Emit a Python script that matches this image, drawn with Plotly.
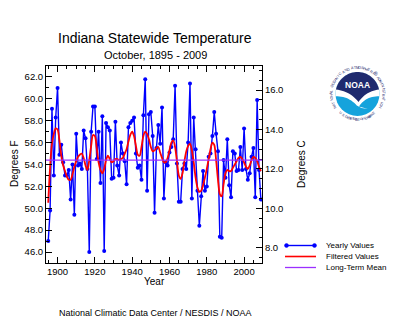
import math
import plotly.graph_objects as go

# ---- data: Indiana statewide mean October temperature (deg F) ----
years = list(range(1895, 2010))
yearly_f = [
    47.0, 49.8, 59.1, 53.0, 58.3, 61.0, 54.9, 55.8, 54.2, 53.0,
    53.0, 53.5, 50.8, 54.0, 49.4, 56.8, 53.9, 54.1, 53.6, 57.1,
    56.4, 53.6, 46.0, 57.0, 59.3, 59.3, 54.5, 57.0, 52.3, 58.4,
    46.1, 57.8, 57.4, 57.1, 52.7, 52.8, 57.9, 53.9, 53.0, 56.0,
    55.0, 54.3, 52.2, 57.4, 57.8, 58.0, 58.3, 55.0, 53.7, 53.9,
    52.6, 58.5, 61.8, 51.6, 58.6, 58.8, 56.6, 49.6, 55.5, 57.6,
    55.9, 59.2, 50.9, 54.2, 53.9, 55.1, 55.6, 56.3, 61.2, 54.1,
    50.6, 50.6, 53.6, 54.1, 53.6, 56.0, 61.4, 50.9, 58.3, 55.4,
    51.6, 48.4, 51.1, 53.4, 51.6, 52.0, 54.7, 55.0, 56.6, 58.8,
    56.8, 55.2, 47.4, 47.3, 54.4, 52.8, 56.3, 52.1, 51.0, 55.2,
    55.0, 53.4, 53.5, 55.6, 53.5, 57.3, 53.6, 52.6, 53.2, 54.7,
    55.5, 51.0, 59.9, 53.5, 50.8,
]
filtered_f = [
    50.5, 53.8, 55.9, 56.8, 57.3, 57.2, 56.2, 54.8, 53.9, 53.4,
    52.9, 52.6, 52.6, 53.1, 53.8, 54.3, 54.7, 54.9, 55.0, 54.6,
    53.9, 53.5, 54.4, 55.7, 56.7, 56.6, 55.5, 54.2, 53.5, 53.2,
    53.6, 54.4, 54.8, 54.5, 54.2, 54.3, 54.5, 54.5, 54.4, 54.5,
    54.6, 55.0, 55.4, 56.1, 56.7, 57.0, 56.6, 55.7, 54.9, 54.8,
    55.6, 56.6, 57.0, 56.8, 56.3, 55.6, 55.2, 55.3, 55.5, 55.6,
    55.1, 54.6, 54.2, 54.2, 54.6, 55.3, 56.0, 56.2, 55.6, 54.3,
    53.0, 52.7, 53.2, 54.3, 55.2, 55.7, 55.9, 55.3, 54.2, 52.8,
    51.9, 51.5, 51.6, 52.1, 52.8, 53.6, 54.5, 55.4, 56.0, 55.8,
    54.4, 52.6, 51.3, 51.1, 52.2, 53.2, 53.5, 53.4, 53.4, 53.7,
    54.0, 54.3, 54.6, 54.7, 54.5, 54.2, 53.8, 53.6, 53.9, 54.4,
    54.7, 54.6, 54.3, 53.8, 53.4,
]
long_term_mean_f = 54.4

f_range = [45.0, 63.0]
c_range = [(f - 32.0) * 5.0 / 9.0 for f in f_range]
year_range = [1893.8, 2009.6]

legend_labels = ["Yearly Values", "Filtered Values", "Long-Term Mean"]
title_text = "Indiana Statewide Temperature"
subtitle_text = "October, 1895 - 2009"
credit_text = "National Climatic Data Center / NESDIS / NOAA"

FONT = "Liberation Sans, Arial, Helvetica, sans-serif"
BLUE = "#0000ff"
RED = "#ff0000"
PURPLE = "#9b30ff"
NAVY = "#1f2a6e"
CYAN = "#15a3dc"

# plot frame in page pixels
W, H = 400, 329
L, R, T, B = 46, 262, 66, 263


def px(x):
    return (x - L) / (R - L)


def py(y):
    return (B - y) / (B - T)


fig = go.Figure()

fig.add_trace(go.Scatter(
    x=years, y=yearly_f, mode="lines+markers",
    line=dict(color=BLUE, width=1.4),
    marker=dict(color=BLUE, size=4, symbol="circle"),
    showlegend=False, hoverinfo="x+y",
))
fig.add_trace(go.Scatter(
    x=years, y=filtered_f, mode="lines",
    line=dict(color=RED, width=1.8, shape="spline", smoothing=0.8),
    showlegend=False, hoverinfo="x+y",
))
# invisible trace that carries the Celsius axis
fig.add_trace(go.Scatter(
    x=[years[0]], y=[(yearly_f[0] - 32) * 5 / 9], yaxis="y2",
    mode="markers", marker=dict(opacity=0), showlegend=False, hoverinfo="skip",
))
fig.add_hline(y=long_term_mean_f, line=dict(color=PURPLE, width=1.3), layer="above")

axis_common = dict(
    showline=True, linecolor="black", linewidth=1,
    ticks="inside", ticklen=6, tickcolor="black", tickwidth=1,
    showgrid=False, zeroline=False,
    tickfont=dict(family=FONT, size=9.5, color="black"),
)

shapes = []
annotations = []

# ---- legend box ----
lx0, lx1, ly0, ly1 = 277, 390, 237, 276
shapes.append(dict(type="rect", xref="paper", yref="paper",
                   x0=px(lx0), x1=px(lx1), y0=py(ly1), y1=py(ly0),
                   line=dict(color="#8a8a8a", width=1), fillcolor="white"))
rows = [245.5, 256.5, 267.5]
colors = [BLUE, RED, PURPLE]
widths = [1.4, 1.6, 1.3]
for label, yrow, col, w in zip(legend_labels, rows, colors, widths):
    shapes.append(dict(type="line", xref="paper", yref="paper",
                       x0=px(285), x1=px(316), y0=py(yrow), y1=py(yrow),
                       line=dict(color=col, width=w)))
    annotations.append(dict(text=label, xref="paper", yref="paper",
                            x=px(324), y=py(yrow), xanchor="left", yanchor="middle",
                            showarrow=False, font=dict(family=FONT, size=8, color="black")))
for mx in (286.5, 314.5):
    shapes.append(dict(type="circle", xref="paper", yref="paper",
                       x0=px(mx - 2), x1=px(mx + 2), y0=py(rows[0] + 2), y1=py(rows[0] - 2),
                       line=dict(color=BLUE, width=0.5), fillcolor=BLUE))

# ---- NOAA emblem ----
cx, cy, rd = 357.5, 94.0, 22.0


def poly(points):
    d = "M " + " L ".join(f"{px(x):.5f},{py(y):.5f}" for x, y in points) + " Z"
    return d


def arc(a0, a1, r, n=40):
    return [(cx + r * math.cos(math.radians(a0 + (a1 - a0) * i / n)),
             cy - r * math.sin(math.radians(a0 + (a1 - a0) * i / n))) for i in range(n + 1)]


def qcurve(p0, c, p1, n=14):
    out = []
    for i in range(1, n + 1):
        t = i / n
        out.append(((1 - t) ** 2 * p0[0] + 2 * (1 - t) * t * c[0] + t ** 2 * p1[0],
                    (1 - t) ** 2 * p0[1] + 2 * (1 - t) * t * c[1] + t ** 2 * p1[1]))
    return out


shapes.append(dict(type="circle", xref="paper", yref="paper",
                   x0=px(cx - rd), x1=px(cx + rd), y0=py(cy + rd), y1=py(cy - rd),
                   line=dict(width=0), fillcolor=CYAN))
# white gull band
top_w = arc(186, -6, rd)
right_w = top_w[-1]
left_w = top_w[0]
tip_w = (cx + 1.5, cy + 12.5)
band = top_w + qcurve(right_w, (cx + 8, cy + 2), tip_w) + [(cx + 10.5, cy + 15), (cx + 4, cy + 14)] \
    + qcurve((cx + 0.5, cy + 13), (cx - 8, cy + 2), left_w)
shapes.append(dict(type="path", xref="paper", yref="paper", path=poly(band),
                   line=dict(width=0), fillcolor="white"))
# navy sky
top_n = arc(168, 12, rd)
right_n = top_n[-1]
left_n = top_n[0]
tip_n = (cx + 1.0, cy + 8.0)
sky = top_n + qcurve(right_n, (cx + 8, cy - 2.5), tip_n) + qcurve(tip_n, (cx - 7, cy - 2.5), left_n)
shapes.append(dict(type="path", xref="paper", yref="paper", path=poly(sky),
                   line=dict(width=0), fillcolor=NAVY))
annotations.append(dict(text="<b>NOAA</b>", xref="paper", yref="paper",
                        x=px(cx), y=py(cy - 9), xanchor="center", yanchor="middle",
                        showarrow=False, font=dict(family=FONT, size=8.5, color="white")))


def ring(text, r, a0, a1, size, upper=True):
    n = len(text)
    for i, ch in enumerate(text):
        if ch == " ":
            continue
        a = a0 + (a1 - a0) * (i + 0.5) / n
        x = cx + r * math.cos(math.radians(a))
        y = cy - r * math.sin(math.radians(a))
        ang = (90 - a) if upper else (270 - a)
        ang = (ang + 180) % 360 - 180
        annotations.append(dict(text=ch, xref="paper", yref="paper", x=px(x), y=py(y),
                                xanchor="center", yanchor="middle", showarrow=False,
                                textangle=ang, font=dict(family=FONT, size=size, color=NAVY)))


ring("NATIONAL OCEANIC AND ATMOSPHERIC ADMINISTRATION", 26.2, 212, -32, 3.7, True)
ring("U.S. DEPARTMENT OF COMMERCE", 25.6, 228, 312, 3.3, False)
annotations.append(dict(text="®", xref="paper", yref="paper", x=px(cx + 22), y=py(cy - 25),
                        showarrow=False, font=dict(family=FONT, size=5, color=NAVY)))

# ---- titles and axis names ----
annotations += [
    dict(text=title_text, xref="paper", yref="paper", x=px(155), y=py(38),
         xanchor="center", yanchor="middle", showarrow=False,
         font=dict(family=FONT, size=14, color="black")),
    dict(text=subtitle_text, xref="paper", yref="paper", x=px(155), y=py(55),
         xanchor="center", yanchor="middle", showarrow=False,
         font=dict(family=FONT, size=11, color="black")),
    dict(text="Degrees F", xref="paper", yref="paper", x=px(14), y=py(164),
         xanchor="center", yanchor="middle", textangle=-90, showarrow=False,
         font=dict(family=FONT, size=10, color="black")),
    dict(text="Degrees C", xref="paper", yref="paper", x=px(301), y=py(164),
         xanchor="center", yanchor="middle", textangle=-90, showarrow=False,
         font=dict(family=FONT, size=10, color="black")),
    dict(text="Year", xref="paper", yref="paper", x=px(154), y=py(281),
         xanchor="center", yanchor="middle", showarrow=False,
         font=dict(family=FONT, size=10, color="black")),
    dict(text=credit_text, xref="paper", yref="paper", x=px(155), y=py(313),
         xanchor="center", yanchor="middle", showarrow=False,
         font=dict(family=FONT, size=9, color="black")),
]

fig.update_layout(
    width=W, height=H,
    margin=dict(l=L, r=W - R, t=T, b=H - B, pad=0),
    paper_bgcolor="white", plot_bgcolor="white",
    showlegend=False,
    xaxis=dict(range=year_range, tick0=1900, dtick=20, mirror="ticks",
               minor=dict(dtick=5, ticklen=3, ticks="inside", tickcolor="black"),
               **axis_common),
    yaxis=dict(range=f_range, tick0=46, dtick=2, tickformat=".1f",
               minor=dict(dtick=1, ticklen=3, ticks="inside", tickcolor="black"),
               **axis_common),
    yaxis2=dict(range=c_range, overlaying="y", side="right", tick0=8, dtick=2,
                tickformat=".1f",
                minor=dict(dtick=0.5, ticklen=3, ticks="inside", tickcolor="black"),
                **axis_common),
    shapes=shapes,
    annotations=annotations,
)

fig.write_html("out.html", config={"displayModeBar": False})
